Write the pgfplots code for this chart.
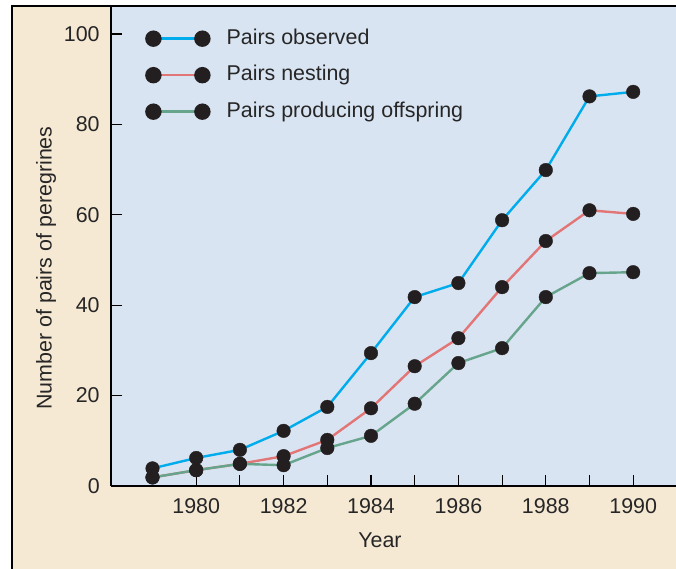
\documentclass[border=0pt]{standalone}
\usepackage{pgfplots}
\pgfplotsset{compat=1.18}
\usepackage{fontspec}
\setmainfont{Liberation Sans}
\definecolor{obsblue}{RGB}{0,172,236}
\definecolor{nestred}{RGB}{226,118,118}
\definecolor{prodgreen}{RGB}{102,164,140}
\definecolor{plotbg}{RGB}{217,228,242}
\definecolor{beige}{RGB}{246,233,212}
\definecolor{mk}{RGB}{35,31,32}
\begin{document}
\fontsize{21.5}{25}\selectfont
\begin{tikzpicture}[x=1bp,y=1bp]
\path[use as bounding box, fill=white] (0,0) rectangle (676,569);
\fill[beige] (12,0) rectangle (676,563);
\fill[plotbg] (111,83) rectangle (676,563);
\begin{axis}[
  at={(111bp,83bp)}, anchor=south west,
  scale only axis, width=565bp, height=480bp,
  xmin=1978.05, xmax=1990.98, ymin=0, ymax=106.2,
  axis x line*=bottom, axis y line*=left,
  axis line style={line width=1.4bp, black, -},
  tick align=inside, major tick length=11bp,
  tick style={black, line width=1.1bp},
  xtick={1980,1981,...,1990},
  xticklabels={1980,,1982,,1984,,1986,,1988,,1990},
  xticklabel style={yshift=-5bp},
  ytick={0,20,40,60,80,100},
  yticklabel style={/pgf/number format/assume math mode=true, xshift=-4bp},
  ticklabel style={font=\fontsize{21.5}{25}\selectfont, text=black!85},
  label style={font=\fontsize{21.5}{25}\selectfont, text=black!85},
  ylabel={Number of pairs of peregrines},
  ylabel style={at={(axis description cs:-0.115,0.454)}, anchor=center},
  xlabel={Year},
  xlabel style={at={(axis description cs:0.476,-0.1125)}, anchor=center},
  legend cell align=left,
  legend style={at={(rel axis cs:0,1)}, anchor=north west, draw=none, fill=none,
    xshift=34bp, yshift=-22bp, inner sep=0pt, row sep=15.5bp,
    font=\fontsize{21.5}{25}\selectfont, text=black!85,
    nodes={inner sep=0pt, text height=16bp, text depth=5bp},
    /tikz/every odd column/.append style={column sep=16bp}},
  legend image code/.code={
    \draw[#1, mark=none] (0bp,0bp) -- (49bp,0bp);
    \fill[mk] (0bp,0bp) circle (7bp) (49bp,0bp) circle (7bp);},
]
\addplot[obsblue, line width=2.4bp] coordinates {(1979,3.9)(1980,6.2)(1981,8.0)(1982,12.2)(1983,17.5)(1984,29.4)(1985,41.8)(1986,44.9)(1987,58.8)(1988,69.9)(1989,86.2)(1990,87.2)};
\addlegendentry{Pairs observed}
\addplot[nestred, line width=2.4bp] coordinates {(1979,1.9)(1980,3.5)(1981,4.9)(1982,6.6)(1983,10.2)(1984,17.2)(1985,26.5)(1986,32.7)(1987,44.0)(1988,54.2)(1989,61.0)(1990,60.2)};
\addlegendentry{Pairs nesting}
\addplot[prodgreen, line width=2.4bp] coordinates {(1979,1.9)(1980,3.5)(1981,4.9)(1982,4.6)(1983,8.4)(1984,11.1)(1985,18.2)(1986,27.2)(1987,30.5)(1988,41.8)(1989,47.1)(1990,47.3)};
\addlegendentry{Pairs producing offspring}
\addplot[only marks, mark=*, mark size=6.8bp, mark options={fill=mk, draw=mk}, forget plot] coordinates {(1979,3.9)(1980,6.2)(1981,8.0)(1982,12.2)(1983,17.5)(1984,29.4)(1985,41.8)(1986,44.9)(1987,58.8)(1988,69.9)(1989,86.2)(1990,87.2)};
\addplot[only marks, mark=*, mark size=6.8bp, mark options={fill=mk, draw=mk}, forget plot] coordinates {(1979,1.9)(1980,3.5)(1981,4.9)(1982,6.6)(1983,10.2)(1984,17.2)(1985,26.5)(1986,32.7)(1987,44.0)(1988,54.2)(1989,61.0)(1990,60.2)};
\addplot[only marks, mark=*, mark size=6.8bp, mark options={fill=mk, draw=mk}, forget plot] coordinates {(1979,1.9)(1980,3.5)(1981,4.9)(1982,4.6)(1983,8.4)(1984,11.1)(1985,18.2)(1986,27.2)(1987,30.5)(1988,41.8)(1989,47.1)(1990,47.3)};
\end{axis}
\draw[black, line width=1.4bp] (12,0) -- (12,563) -- (676,563);
\end{tikzpicture}
\end{document}
